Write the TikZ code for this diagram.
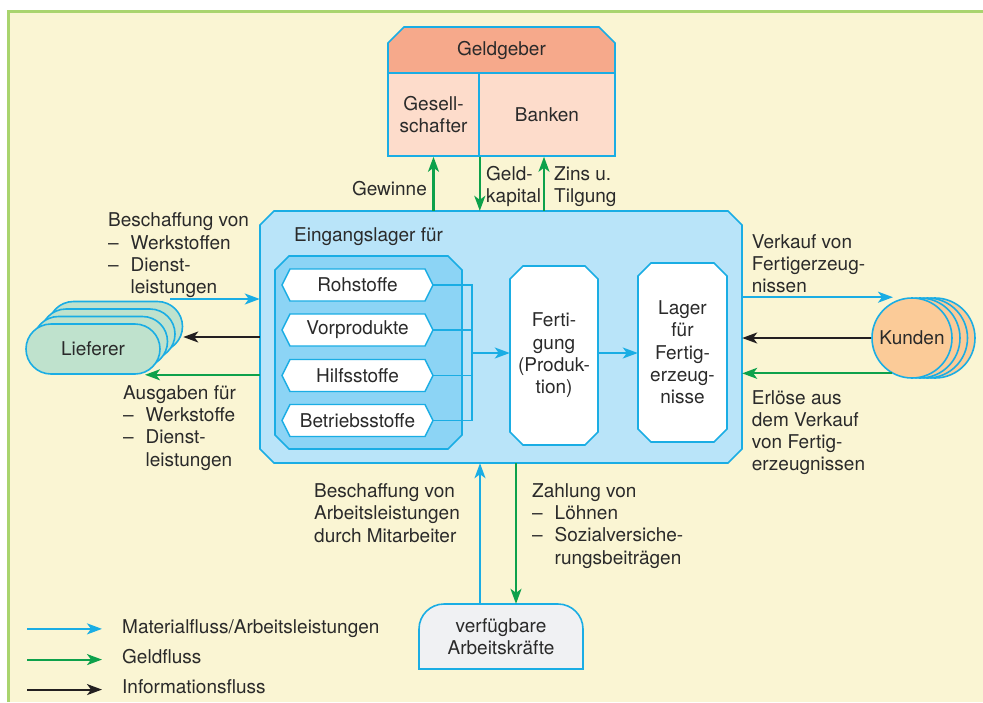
\documentclass[tikz,border=0pt]{standalone}
\usepackage{fontspec}
\setmainfont{TeX Gyre Heros}
\usetikzlibrary{arrows.meta}
\definecolor{cCream}{HTML}{FAF5D3}
\definecolor{cFrame}{HTML}{A9D46E}
\definecolor{cBlue}{HTML}{1AADE4}
\definecolor{cMain}{HTML}{B9E4F9}
\definecolor{cInner}{HTML}{8CD4F5}
\definecolor{cSalmon}{HTML}{F6A98B}
\definecolor{cPink}{HTML}{FDDCCB}
\definecolor{cLief}{HTML}{BFE2CD}
\definecolor{cKunde}{HTML}{FBCB98}
\definecolor{cArb}{HTML}{F0F1F3}
\definecolor{cGreen}{HTML}{0DA14B}
\definecolor{cBlack}{HTML}{231F20}
\definecolor{cTxt}{HTML}{2A2A2A}
\newcommand\mychbox[6]{\path[#6] (#1,#2+#5) -- (#1+#5,#2) -- (#3-#5,#2) -- (#3,#2+#5) -- (#3,#4-#5) -- (#3-#5,#4) -- (#1+#5,#4) -- (#1,#4-#5) -- cycle;}
\newcommand\dashitem{\makebox[22.5pt][l]{–}}
\begin{document}
\begin{tikzpicture}[x=1pt,y=-1pt,
  every node/.style={font=\fontsize{19}{22.3}\selectfont, text=cTxt, inner sep=0pt},
  lbl/.style={align=left, anchor=north west},
  outline/.style={draw=cBlue, line width=1.6pt},
  flowtip/.style={-{Stealth[length=15pt,width=11pt,inset=4pt]}},
  mat/.style={draw=cBlue, line width=2.1pt, flowtip},
  geld/.style={draw=cGreen, line width=2.1pt, flowtip},
  info/.style={draw=cBlack, line width=1.9pt, flowtip},
  thinline/.style={draw=cBlue, line width=1.3pt},
  lief/.style={draw=cBlue, line width=1.6pt, fill=cLief, rounded corners=25pt, minimum width=134pt, minimum height=50pt},
  kund/.style={circle, draw=cBlue, line width=1.6pt, fill=cKunde, minimum size=80pt}
]
\useasboundingbox (0,0) rectangle (983,702);
\fill[white] (0,0) rectangle (983,702);
\fill[cCream] (8,11) rectangle (983,702);
\draw[cFrame, line width=2.2pt] (8.5,702) -- (8.5,11.5) -- (983,11.5);

% Geldgeber
\path[fill=cSalmon, outline] (388,73) -- (388,43) -- (404,27) -- (599,27) -- (615,43) -- (615,73) -- cycle;
\node[minimum width=227pt, minimum height=46pt] (geldgeber) at (501.5,50) {Geldgeber};
\node[fill=cPink, outline, minimum width=91pt, minimum height=83pt, align=center] (gesell) at (433.5,114.5) {Gesell-\\schafter};
\node[fill=cPink, outline, minimum width=136pt, minimum height=83pt] (banken) at (547,114.5) {Banken};

% main box
\mychbox{260}{211}{742}{463}{14}{fill=cMain, outline}
\node[minimum width=482pt, minimum height=252pt] (main) at (501,337) {};
\node[lbl] (eing) at (294,227) {Eingangslager für};
\mychbox{275}{256}{462}{449}{14}{fill=cInner, outline}
\node[minimum width=187pt, minimum height=193pt] (inner) at (368.5,352.5) {};

\foreach \n/\t/\y in {roh/Rohstoffe/285, vor/Vorprodukte/330, hilf/Hilfsstoffe/375.5, betr/Betriebsstoffe/420.5} {
  \path[fill=white, draw=cBlue, line width=1.4pt] (282,\y) -- (290,\y-16) -- (425,\y-16) -- (433,\y) -- (425,\y+16) -- (290,\y+16) -- cycle;
  \node[minimum width=151pt, minimum height=32pt] (\n) at (357.5,\y) {\t};
}
\coordinate (j) at (472,353);
\draw[thinline] (roh.east) -| (j);
\draw[thinline] (betr.east) -| (j);
\draw[thinline] (vor.east) -- (vor.east -| j);
\draw[thinline] (hilf.east) -- (hilf.east -| j);

\mychbox{510}{266}{598}{445}{13}{fill=white, outline}
\node[minimum width=88pt, minimum height=179pt, align=center] (fert) at (554,355.5) {Ferti-\\gung\\(Produk-\\tion)};
\mychbox{638}{263}{727}{442}{13}{fill=white, outline}
\node[minimum width=89pt, minimum height=179pt, align=center] (lager) at (682.5,352.5) {Lager\\für\\Fertig-\\erzeug-\\nisse};

\draw[mat] (j) -- (j -| fert.west);
\draw[mat] (fert.east |- j) -- (lager.west |- j);

% Lieferer
\foreach \i/\d in {3/22.5, 2/15, 1/7.5} { \node[lief] (lief\i) at (93+\d,349-\d) {}; }
\node[lief] (lief) at (93,349) {Lieferer};

% Kunden
\foreach \i/\d in {3/23, 2/15.5, 1/8} { \node[kund] (kunden\i) at (912+\d,338) {}; }
\node[kund] (kunden) at (912,338) {Kunden};

% Arbeitskraefte
\path[fill=cArb, outline] (419,669) -- (419,629) arc[start angle=180, end angle=90, radius=25pt] -- (558,604) arc[start angle=90, end angle=0, radius=25pt] -- (583,669) -- cycle;
\node[minimum width=164pt, minimum height=65pt, align=center] (arbeit) at (501,636.5) {verfügbare\\Arbeitskräfte};

% top arrows
\draw[geld] (gesell.south |- main.north) -- (gesell.south);
\draw[geld] (gesell.south east) -- (gesell.south east |- main.north);
\draw[geld] ([xshift=-3pt]banken.south |- main.north) -- ([xshift=-3pt]banken.south);
\node[anchor=base east] (gewinne) at (427,195.7) {Gewinne};
\node[lbl] (geldk) at (486,166) {Geld-\\kapital};
\node[lbl] (zins) at (554,166) {Zins u.\\Tilgung};

% left arrows
\coordinate (bstart) at (170,299);
\draw[mat] (bstart) -- (bstart -| main.west);
\draw[info] (main.west) -- (main.west -| lief3.east);
\draw[geld] (main.west |- lief.south) -- ([xshift=52pt]lief.south);
\node[lbl] (beschL) at (108,212.7) {Beschaffung von\\\dashitem Werkstoffen\\\dashitem Dienst-\\\hspace*{22.5pt}leistungen};
\node[lbl] (ausg) at (123,385) {Ausgaben für\\\dashitem Werkstoffe\\\dashitem Dienst-\\\hspace*{22.5pt}leistungen};

% right arrows
\draw[mat] (main.east |- kunden.north) -- ([xshift=-19pt]kunden.north);
\draw[info] (kunden.west) -- (kunden.west -| main.east);
\draw[geld] (kunden.240) -- (kunden.240 -| main.east);
\node[lbl] (verk) at (751.7,234) {Verkauf von\\Fertigerzeug-\\nissen};
\node[lbl] (erl) at (751.7,390) {Erlöse aus\\dem Verkauf\\von Fertig-\\erzeugnissen};

% bottom arrows
\draw[mat] ([xshift=-21pt]arbeit.north) -- ([xshift=-21pt]arbeit.north |- main.south);
\draw[geld] ([xshift=15pt]arbeit.north |- main.south) -- ([xshift=15pt]arbeit.north);
\node[lbl] (arbL) at (314,483.3) {Beschaffung von\\Arbeitsleistungen\\durch Mitarbeiter};
\node[lbl] (zahl) at (532,483.3) {Zahlung von\\\dashitem Löhnen\\\dashitem Sozialversiche-\\\hspace*{22.5pt}rungsbeiträgen};

% legend
\node[anchor=base west] (leg1) at (122,633) {Materialfluss/Arbeitsleistungen};
\node[anchor=base west] (leg2) at (122,663.7) {Geldfluss};
\node[anchor=base west] (leg3) at (122,693.7) {Informationsfluss};
\draw[mat] ([xshift=-95pt,yshift=1.5pt]leg1.mid west) -- ([xshift=-20pt,yshift=1.5pt]leg1.mid west);
\draw[geld] ([xshift=-95pt,yshift=1.5pt]leg2.mid west) -- ([xshift=-20pt,yshift=1.5pt]leg2.mid west);
\draw[info] ([xshift=-95pt,yshift=1.5pt]leg3.mid west) -- ([xshift=-20pt,yshift=1.5pt]leg3.mid west);
\end{tikzpicture}
\end{document}
